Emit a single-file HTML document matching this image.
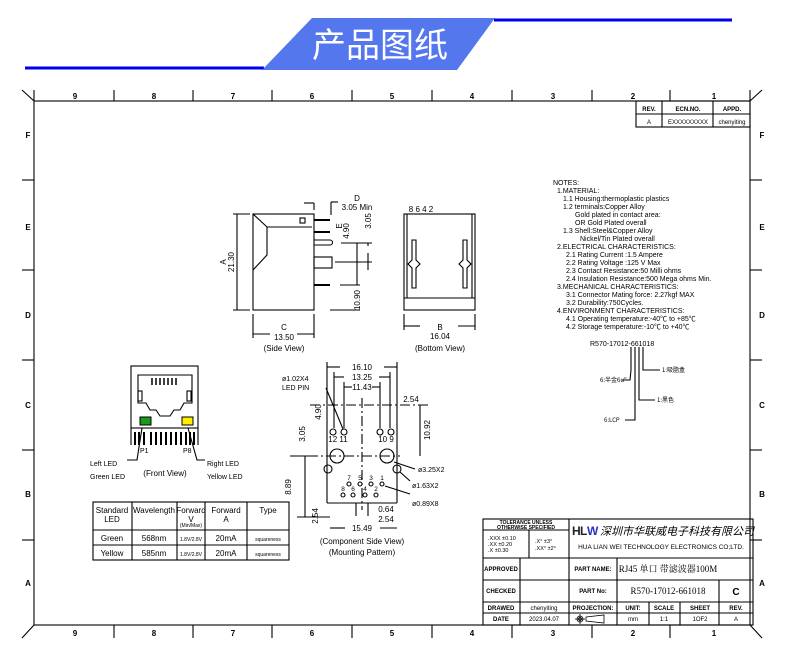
<!DOCTYPE html>
<html><head><meta charset="utf-8"><style>
html,body{margin:0;padding:0;background:#fff;}
svg{display:block;font-family:"Liberation Sans","Noto Sans CJK SC",sans-serif;}
</style></head><body>
<svg width="790" height="663" viewBox="0 0 790 663" xmlns="http://www.w3.org/2000/svg">
<!-- banner -->
<line x1="25" y1="68" x2="264" y2="68" stroke="#0000ee" stroke-width="3"/>
<line x1="494" y1="20" x2="732" y2="20" stroke="#0000ee" stroke-width="3"/>
<polygon points="312,18 495,18 457,70 262,70" fill="#5577ee"/>
<text x="380" y="57" font-size="34" fill="#fff" text-anchor="middle" font-family="Noto Sans CJK SC,sans-serif">产品图纸</text>

<g stroke="#000" fill="none" stroke-width="1.1">
<!-- frame -->
<rect x="34" y="101" width="716" height="524"/>
<line x1="34" y1="90" x2="34" y2="101"/><line x1="750" y1="90" x2="750" y2="101"/>
<line x1="22" y1="90" x2="34" y2="101"/><line x1="762" y1="90" x2="750" y2="101"/>
<line x1="22" y1="638" x2="34" y2="625"/><line x1="762" y1="638" x2="750" y2="625"/>
<g>
<line x1="114" y1="90" x2="114" y2="101"/><line x1="193" y1="90" x2="193" y2="101"/><line x1="272" y1="90" x2="272" y2="101"/><line x1="352" y1="90" x2="352" y2="101"/><line x1="432" y1="90" x2="432" y2="101"/><line x1="512" y1="90" x2="512" y2="101"/><line x1="592" y1="90" x2="592" y2="101"/><line x1="670" y1="90" x2="670" y2="101"/>
<line x1="114" y1="625" x2="114" y2="638"/><line x1="193" y1="625" x2="193" y2="638"/><line x1="272" y1="625" x2="272" y2="638"/><line x1="352" y1="625" x2="352" y2="638"/><line x1="432" y1="625" x2="432" y2="638"/><line x1="512" y1="625" x2="512" y2="638"/><line x1="592" y1="625" x2="592" y2="638"/><line x1="670" y1="625" x2="670" y2="638"/>
<line x1="22" y1="180" x2="34" y2="180"/><line x1="22" y1="270" x2="34" y2="270"/><line x1="22" y1="360" x2="34" y2="360"/><line x1="22" y1="450" x2="34" y2="450"/><line x1="22" y1="540" x2="34" y2="540"/>
<line x1="750" y1="180" x2="762" y2="180"/><line x1="750" y1="270" x2="762" y2="270"/><line x1="750" y1="360" x2="762" y2="360"/><line x1="750" y1="450" x2="762" y2="450"/><line x1="750" y1="540" x2="762" y2="540"/>
</g>
<!-- rev table -->
<rect x="636" y="101" width="114" height="26"/><line x1="636" y1="114" x2="750" y2="114"/><line x1="662" y1="101" x2="662" y2="127"/><line x1="713" y1="101" x2="713" y2="127"/>

<!-- side view -->
<rect x="253" y="214" width="61" height="96"/>
<polyline points="253,214 267,227 312,227"/>
<polyline points="267,227 267,255 253,270"/>
<rect x="300" y="218" width="5" height="5"/>
<line x1="314" y1="220" x2="330" y2="220" stroke-width="2"/>
<line x1="314" y1="232" x2="330" y2="232" stroke-width="2"/>
<path d="M314,240 H330 A2.5,2.5 0 0 1 330,245 H314"/>
<rect x="314" y="257" width="18" height="11"/>
<line x1="314" y1="285" x2="330" y2="285" stroke-width="2"/>
<line x1="237" y1="214" x2="237" y2="310"/><line x1="233" y1="214" x2="250" y2="214"/><line x1="233" y1="310" x2="250" y2="310"/>
<line x1="253" y1="314" x2="253" y2="338"/><line x1="314" y1="314" x2="314" y2="338"/>
<line x1="253" y1="334" x2="270" y2="334"/><line x1="297" y1="334" x2="314" y2="334"/>
<line x1="314" y1="203" x2="314" y2="210"/><line x1="304" y1="203" x2="314" y2="203"/>
<line x1="331" y1="202" x2="331" y2="215"/><line x1="331" y1="202" x2="338" y2="202"/>
<line x1="357" y1="243" x2="357" y2="285"/>
<line x1="368" y1="243" x2="368" y2="246"/><line x1="368" y1="253" x2="368" y2="270"/>
<line x1="341" y1="243" x2="372" y2="243"/><line x1="335" y1="262" x2="372" y2="262"/><line x1="340" y1="285" x2="360" y2="285"/><line x1="330" y1="310" x2="360" y2="310"/>

<!-- bottom view -->
<rect x="404" y="214" width="71" height="96"/>
<line x1="404" y1="298" x2="475" y2="298"/>
<line x1="407" y1="214" x2="407" y2="298"/><line x1="472" y1="214" x2="472" y2="298"/>
<path d="M412,240 v20 l-4,4 l4,4 v20 h4 v-20 l4,-4 l-4,-4 v-20 z"/>
<path d="M463,240 v20 l-4,4 l4,4 v20 h4 v-20 l4,-4 l-4,-4 v-20 z"/>
<line x1="404" y1="314" x2="404" y2="330"/><line x1="475" y1="314" x2="475" y2="330"/>
<line x1="404" y1="326" x2="420" y2="326"/><line x1="458" y1="326" x2="475" y2="326"/>

<!-- front view -->
<rect x="131" y="366" width="67" height="62"/>
<path d="M138,375 H192 V403 H184 L180,410 L174,410 L170,416 H160 L156,410 L150,410 L146,403 H138 Z"/>
<line x1="131" y1="428" x2="198" y2="428"/>
<rect x="138" y="391" width="4" height="10"/><rect x="187" y="391" width="4" height="10"/>
<line x1="131" y1="428" x2="131" y2="445"/><line x1="198" y1="428" x2="198" y2="445"/>
<g stroke-width="2"><line x1="135" y1="432" x2="135" y2="445"/><line x1="139" y1="432" x2="139" y2="445"/><line x1="144" y1="432" x2="144" y2="445"/><line x1="151" y1="432" x2="151" y2="445"/><line x1="156" y1="432" x2="156" y2="445"/><line x1="161" y1="432" x2="161" y2="445"/><line x1="166" y1="432" x2="166" y2="445"/><line x1="171" y1="432" x2="171" y2="445"/><line x1="176" y1="432" x2="176" y2="445"/><line x1="181" y1="432" x2="181" y2="445"/><line x1="186" y1="432" x2="186" y2="445"/><line x1="190" y1="432" x2="190" y2="445"/><line x1="194" y1="432" x2="194" y2="445"/></g>
<g stroke-width="1.5"><line x1="152" y1="378" x2="152" y2="385"/><line x1="156" y1="378" x2="156" y2="385"/><line x1="160" y1="378" x2="160" y2="385"/><line x1="164" y1="378" x2="164" y2="385"/><line x1="168" y1="378" x2="168" y2="385"/><line x1="172" y1="378" x2="172" y2="385"/><line x1="176" y1="378" x2="176" y2="385"/></g>
<polyline points="142,428 137,460 127,460"/><polyline points="188,428 197,460 205,460"/>

<!-- LED table -->
<rect x="93" y="502" width="196" height="58"/>
<line x1="93" y1="530" x2="289" y2="530"/><line x1="93" y1="545" x2="289" y2="545"/>
<line x1="132" y1="502" x2="132" y2="560"/><line x1="177" y1="502" x2="177" y2="560"/><line x1="205" y1="502" x2="205" y2="560"/><line x1="247" y1="502" x2="247" y2="560"/>

<!-- mounting pattern -->
<line x1="327" y1="362" x2="327" y2="503"/><line x1="397" y1="362" x2="397" y2="503"/>
<line x1="334" y1="372" x2="334" y2="428"/><line x1="390" y1="372" x2="390" y2="428"/>
<line x1="344" y1="382" x2="344" y2="428"/><line x1="380" y1="382" x2="380" y2="428"/>
<line x1="327" y1="503" x2="397" y2="503"/>
<line x1="327" y1="367" x2="340" y2="367"/><line x1="384" y1="367" x2="397" y2="367"/>
<line x1="334" y1="377" x2="344" y2="377"/><line x1="379" y1="377" x2="390" y2="377"/>
<line x1="344" y1="387" x2="352" y2="387"/><line x1="372" y1="387" x2="380" y2="387"/>
<g stroke-dasharray="10,3,2,3"><line x1="310" y1="405" x2="430" y2="405"/><line x1="290" y1="456" x2="400" y2="456"/><line x1="362" y1="398" x2="362" y2="510"/></g>
<line x1="420" y1="405" x2="420" y2="456"/>
<circle cx="333" cy="432" r="3"/><circle cx="344" cy="432" r="3"/><circle cx="380" cy="432" r="3"/><circle cx="391" cy="432" r="3"/>
<circle cx="337" cy="456" r="7"/><circle cx="387" cy="456" r="7"/>
<circle cx="328" cy="469" r="4"/><circle cx="397" cy="469" r="4"/>
<circle cx="349" cy="484" r="2"/><circle cx="360" cy="484" r="2"/><circle cx="371" cy="484" r="2"/><circle cx="382" cy="484" r="2"/>
<circle cx="343" cy="495" r="2"/><circle cx="353" cy="495" r="2"/><circle cx="365" cy="495" r="2"/><circle cx="376" cy="495" r="2"/>
<line x1="326" y1="388" x2="343" y2="429"/><line x1="394" y1="462" x2="415" y2="469"/><line x1="400" y1="472" x2="410" y2="481"/><line x1="385" y1="486" x2="410" y2="494"/>
<line x1="305" y1="456" x2="305" y2="517"/><line x1="297" y1="456" x2="315" y2="456"/><line x1="297" y1="517" x2="330" y2="517"/>
<line x1="330" y1="528" x2="345" y2="528"/><line x1="380" y1="528" x2="397" y2="528"/>
<line x1="356" y1="503" x2="356" y2="516"/><line x1="368" y1="503" x2="368" y2="516"/>

<!-- part number tree -->
<polyline points="643,347 643,370 660,370"/><polyline points="639,347 639,400 655,400"/><polyline points="635,347 635,420 625,420"/><polyline points="631,347 631,370 630,380 622,380"/>

<!-- title block -->
<rect x="483" y="519" width="270" height="106"/>
<line x1="483" y1="558" x2="753" y2="558"/><line x1="483" y1="580" x2="753" y2="580"/><line x1="483" y1="602" x2="753" y2="602"/><line x1="483" y1="613" x2="753" y2="613"/>
<line x1="483" y1="530" x2="569" y2="530"/>
<line x1="520" y1="558" x2="520" y2="625"/><line x1="569" y1="519" x2="569" y2="625"/><line x1="617" y1="558" x2="617" y2="625"/>
<line x1="649" y1="602" x2="649" y2="625"/><line x1="680" y1="602" x2="680" y2="625"/><line x1="719" y1="580" x2="719" y2="625"/>
<line x1="529" y1="530" x2="529" y2="558"/>
</g>
<rect x="140" y="417" width="11" height="8" fill="#1a9a1a" stroke="#000"/>
<rect x="182" y="417" width="11" height="8" fill="#ffee00" stroke="#000"/>

<g font-size="8" fill="#000" text-anchor="middle" font-weight="bold">
<text x="75" y="99">9</text><text x="154" y="99">8</text><text x="233" y="99">7</text><text x="312" y="99">6</text><text x="392" y="99">5</text><text x="472" y="99">4</text><text x="553" y="99">3</text><text x="633" y="99">2</text><text x="714" y="99">1</text>
<text x="75" y="636">9</text><text x="154" y="636">8</text><text x="233" y="636">7</text><text x="312" y="636">6</text><text x="392" y="636">5</text><text x="472" y="636">4</text><text x="553" y="636">3</text><text x="633" y="636">2</text><text x="714" y="636">1</text>
<text x="28" y="138">F</text><text x="28" y="230">E</text><text x="28" y="318">D</text><text x="28" y="408">C</text><text x="28" y="497">B</text><text x="28" y="586">A</text>
<text x="762" y="138">F</text><text x="762" y="230">E</text><text x="762" y="318">D</text><text x="762" y="408">C</text><text x="762" y="497">B</text><text x="762" y="586">A</text>
</g>
<g font-size="6" text-anchor="middle">
<text x="649" y="111" font-weight="bold">REV.</text><text x="688" y="111" font-weight="bold">ECN.NO.</text><text x="732" y="111" font-weight="bold">APPD.</text>
<text x="649" y="124">A</text><text x="688" y="124">EXXXXXXXXX</text><text x="732" y="124">chenyiting</text>
</g>
<g font-size="8" text-anchor="middle">
<text x="357" y="201">D</text><text x="357" y="210">3.05 Min</text>
<text x="284" y="330">C</text><text x="284" y="340">13.50</text><text x="284" y="351">(Side View)</text>
<text x="440" y="330">B</text><text x="440" y="339">16.04</text><text x="440" y="351">(Bottom View)</text>
<text x="421" y="212">8  6  4  2</text>
<text x="226" y="262" transform="rotate(-90 226 262)">A</text><text x="234" y="262" transform="rotate(-90 234 262)">21.30</text>
<text x="342" y="226" transform="rotate(-90 342 226)">E</text><text x="349" y="231" transform="rotate(-90 349 231)">4.90</text>
<text x="371" y="221" transform="rotate(-90 371 221)">3.05</text>
<text x="360" y="300" transform="rotate(-90 360 300)">10.90</text>
<text x="165" y="476">(Front View)</text>
<text x="362" y="370">16.10</text><text x="362" y="380">13.25</text><text x="362" y="390">11.43</text>
<text x="411" y="402">2.54</text>
<text x="321" y="412" transform="rotate(-90 321 412)">4.90</text>
<text x="305" y="434" transform="rotate(-90 305 434)">3.05</text>
<text x="430" y="430" transform="rotate(-90 430 430)">10.92</text>
<text x="291" y="487" transform="rotate(-90 291 487)">8.89</text>
<text x="318" y="516" transform="rotate(-90 318 516)">2.54</text>
<text x="386" y="512">0.64</text><text x="386" y="522">2.54</text><text x="362" y="531">15.49</text>
<text x="362" y="544">(Component Side View)</text><text x="362" y="555">(Mounting Pattern)</text>
<text x="338" y="442">12 11</text><text x="386" y="442">10  9</text>
<text x="112" y="513">Standard</text><text x="112" y="522">LED</text>
<text x="154" y="513">Wavelength</text>
<text x="191" y="513">Forward</text><text x="191" y="522">V</text>
<text x="226" y="513">Forward</text><text x="226" y="522">A</text>
<text x="268" y="513">Type</text>
<text x="112" y="541">Green</text><text x="154" y="541">568nm</text><text x="226" y="541">20mA</text>
<text x="112" y="556">Yellow</text><text x="154" y="556">585nm</text><text x="226" y="556">20mA</text>
</g>
<g font-size="6.5" text-anchor="middle">
<text x="349" y="480">7</text><text x="360" y="480">5</text><text x="371" y="480">3</text><text x="382" y="480">1</text>
<text x="343" y="491">8</text><text x="353" y="491">6</text><text x="365" y="491">4</text><text x="376" y="491">2</text>
</g>
<g font-size="5" text-anchor="middle"><text x="191" y="541">1.8V/2.8V</text><text x="191" y="556">1.8V/2.8V</text><text x="268" y="541">squareness</text><text x="268" y="556">squareness</text><text x="191" y="527">(Min/Max)</text></g>
<g font-size="7">
<text x="140" y="453">P1</text><text x="183" y="453">P8</text>
<text x="90" y="466">Left LED</text><text x="90" y="479">Green LED</text>
<text x="207" y="466">Right LED</text><text x="207" y="479">Yellow LED</text>
<text x="282" y="381">ø1.02X4</text><text x="282" y="390">LED PIN</text>
<text x="418" y="472">ø3.25X2</text><text x="412" y="488">ø1.63X2</text><text x="412" y="506">ø0.89X8</text>
</g>
<g font-size="7" fill="#000">
<text x="553" y="185">NOTES:</text>
<text x="557" y="193">1.MATERIAL:</text>
<text x="563" y="201">1.1  Housing:thermoplastic plastics</text>
<text x="563" y="209">1.2  terminals:Copper Alloy</text>
<text x="575" y="217">Gold plated in contact area:</text>
<text x="575" y="225">OR Gold   Plated overall</text>
<text x="563" y="233">1.3  Shell:Steel&amp;Copper Alloy</text>
<text x="580" y="241">Nickel/Tin Plated overall</text>
<text x="557" y="249">2.ELECTRICAL CHARACTERISTICS:</text>
<text x="566" y="257">2.1  Rating Current :1.5 Ampere</text>
<text x="566" y="265">2.2  Rating Voltage :125 V Max</text>
<text x="566" y="273">2.3  Contact Resistance:50 Milli ohms</text>
<text x="566" y="281">2.4  Insulation Resistance:500 Mega ohms Min.</text>
<text x="557" y="289">3.MECHANICAL CHARACTERISTICS:</text>
<text x="566" y="297">3.1  Connector Mating force: 2.27kgf MAX</text>
<text x="566" y="305">3.2  Durability:750Cycles.</text>
<text x="557" y="313">4.ENVIRONMENT CHARACTERISTICS:</text>
<text x="566" y="321">4.1  Operating temperature:-40℃ to +85℃</text>
<text x="566" y="329">4.2  Storage temperature:-10℃ to +40℃</text>
<text x="590" y="346">R570-17012-661018</text>
</g>
<g font-size="6" font-family="Noto Sans CJK SC,sans-serif"><text x="662" y="372">1:吸脂盒</text><text x="657" y="402">1:黑色</text><text x="600" y="382">6:半金6u"</text><text x="604" y="422">6:LCP</text></g>
<!-- title block text -->
<g font-size="5" text-anchor="middle" font-weight="bold"><text x="526" y="524">TOLERANCE UNLESS</text><text x="526" y="529">OTHERWISE SPECIFIED</text></g>
<g font-size="5.5"><text x="488" y="540">.XXX ±0.10</text><text x="488" y="546">.XX   ±0.20</text><text x="488" y="552">.X     ±0.30</text><text x="535" y="543">.X°   ±3°</text><text x="535" y="550">.XX°  ±2°</text></g>
<text x="572" y="535" font-size="12" font-weight="bold" fill="#222">H</text><text x="580" y="535" font-size="12" font-weight="bold" fill="#222">L</text><text x="587" y="535" font-size="12" font-weight="bold" fill="#2233cc">W</text>
<text x="600" y="535" font-size="11" font-style="italic" font-family="Noto Sans CJK SC,sans-serif">深圳市华联威电子科技有限公司</text>
<text x="661" y="549" font-size="6.5" text-anchor="middle">HUA LIAN WEI TECHNOLOGY ELECTRONICS CO;LTD.</text>
<g font-size="6" text-anchor="middle" font-weight="bold">
<text x="501" y="571">APPROVED</text><text x="501" y="593">CHECKED</text><text x="501" y="610">DRAWED</text><text x="501" y="621">DATE</text>
<text x="593" y="571">PART NAME:</text><text x="593" y="593">PART No:</text><text x="593" y="610">PROJECTION:</text>
<text x="633" y="610">UNIT:</text><text x="664" y="610">SCALE</text><text x="700" y="610">SHEET</text><text x="736" y="610">REV.</text>
</g>
<g font-size="6" text-anchor="middle"><text x="544" y="610">chenyiting</text><text x="544" y="621">2023.04.07</text><text x="633" y="621">mm</text><text x="664" y="621">1:1</text><text x="700" y="621">1OF2</text><text x="736" y="621">A</text></g>
<text x="668" y="572" font-size="9" text-anchor="middle" font-family="Liberation Serif,Noto Serif CJK SC,serif">RJ45 单口 带滤波器100M</text>
<text x="668" y="594" font-size="9" text-anchor="middle" font-family="Liberation Serif,serif">R570-17012-661018</text>
<text x="736" y="595" font-size="10" text-anchor="middle" font-weight="bold">C</text>
<g stroke="#000" fill="none" stroke-width="0.8"><circle cx="580" cy="619" r="3"/><circle cx="580" cy="619" r="1.5"/><line x1="575" y1="619" x2="585" y2="619"/><line x1="580" y1="614" x2="580" y2="624"/><polygon points="586,617 604,615 604,623 586,621"/></g>
</svg>
</body></html>
